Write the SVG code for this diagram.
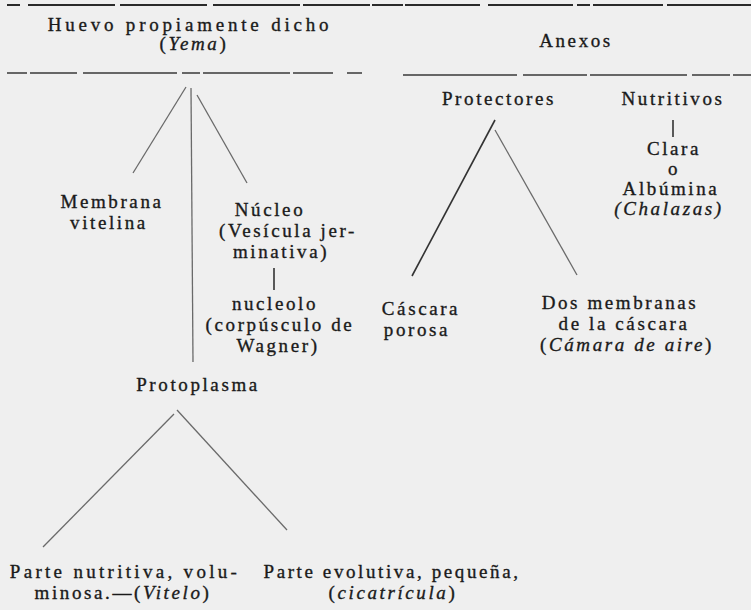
<svg xmlns="http://www.w3.org/2000/svg" width="751" height="610" viewBox="0 0 751 610">
<style>
text{font-family:"Liberation Serif","Times New Roman",serif;font-size:19px;fill:#1a1a1a;stroke:#1a1a1a;stroke-width:0.35;text-anchor:middle;letter-spacing:2.6px}
.i{font-style:italic}
.wide{letter-spacing:3.8px}
.mid{letter-spacing:3.3px}
.rule{stroke:#2a2a2a;stroke-width:2;fill:none}
.rule2{stroke:#3a3a3a;stroke-width:1.6;fill:none}
.c{stroke:#6a6a6a;stroke-width:1.3;fill:none}
.cd{stroke:#333;stroke-width:1.6;fill:none}
</style>
<rect width="751" height="610" fill="#efefef"/>
<g id="rules">
<path class="rule" d="M7 5H20M28 5H115M120 5H207M213 5H300M303 5H370M372 5H403M405 5H480M488 5H573M577 5H590M593 5H663M667 5H751"/>
<path class="rule2" d="M7 73H27M30 73H77M83 73H177M182 73H200M203 73H290M293 73H333M347 73H362"/>
<path class="rule2" d="M403 75H517M523 75H587M590 75H687M692 75H730M733 75H751"/>
</g>
<g id="connectors">
<line class="c" x1="186" y1="87" x2="133" y2="173"/>
<line class="c" x1="191" y1="88" x2="193" y2="362"/>
<line class="c" x1="197" y1="95" x2="247" y2="183"/>
<line class="cd" x1="274" y1="268" x2="274" y2="290"/>
<line class="c" x1="174" y1="414" x2="43" y2="547"/>
<line class="c" x1="177" y1="410" x2="287" y2="530"/>
<line class="cd" x1="495" y1="120" x2="412" y2="276"/>
<line class="c" x1="495" y1="130" x2="577" y2="275"/>
<line class="cd" x1="673" y1="120" x2="673" y2="137"/>
</g>
<g id="n-huevo"><text class="wide" x="190" y="31">Huevo propiamente dicho</text><text x="194" y="50">(<tspan class="i">Yema</tspan>)</text></g>
<g id="n-anexos"><text x="576" y="47">Anexos</text></g>
<g id="n-membrana"><text x="112" y="208">Membrana</text><text x="109" y="229">vitelina</text></g>
<g id="n-nucleo"><text x="270" y="216">Núcleo</text><text x="288" y="237">(Vesícula jer-</text><text x="281" y="258">minativa)</text></g>
<g id="n-nucleolo"><text x="275" y="310">nucleolo</text><text x="280" y="331">(corpúsculo de</text><text x="278" y="352">Wagner)</text></g>
<g id="n-protoplasma"><text x="198" y="391">Protoplasma</text></g>
<g id="n-nutritiva"><text class="mid" x="125" y="578">Parte nutritiva, volu-</text><text x="123" y="599">minosa.—(<tspan class="i">Vitelo</tspan>)</text></g>
<g id="n-evolutiva"><text x="392" y="578">Parte evolutiva, pequeña,</text><text x="393" y="599">(<tspan class="i">cicatrícula</tspan>)</text></g>
<g id="n-protectores"><text x="499" y="105">Protectores</text></g>
<g id="n-nutritivos"><text x="673" y="105">Nutritivos</text><text x="674" y="155">Clara</text><text x="674" y="175">o</text><text x="671" y="195">Albúmina</text><text class="i" x="669" y="215">(Chalazas)</text></g>
<g id="n-cascara"><text x="421" y="315">Cáscara</text><text x="417" y="336">porosa</text></g>
<g id="n-membranas"><text x="620" y="309">Dos membranas</text><text x="624" y="330">de la cáscara</text><text x="627" y="351">(<tspan class="i">Cámara de aire</tspan>)</text></g>
</svg>
